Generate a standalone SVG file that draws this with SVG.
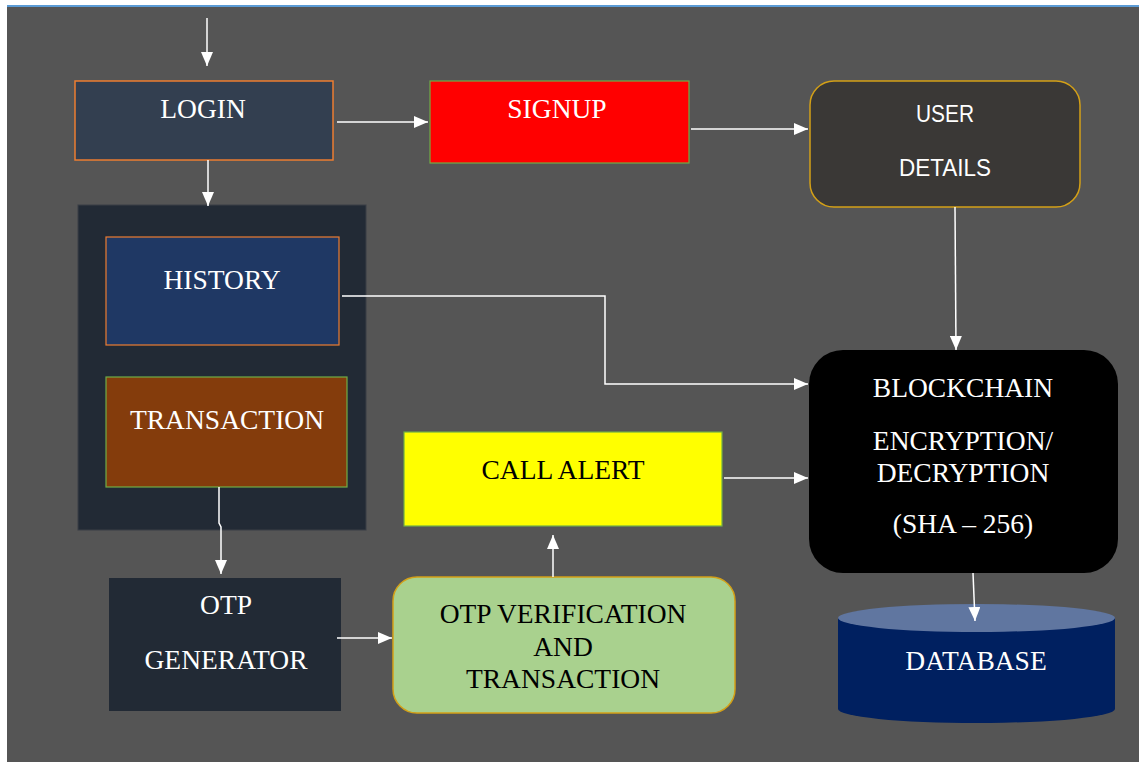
<svg xmlns="http://www.w3.org/2000/svg" width="1139" height="762" viewBox="0 0 1139 762">
<defs>
<style>
.serif{font-family:"Liberation Serif","Times New Roman",serif;font-size:27.5px;text-anchor:middle}
.w{fill:#ffffff}
.b{fill:#000000}
.sans{font-family:"Liberation Sans",Arial,sans-serif;font-size:24px;text-anchor:middle;fill:#ffffff}
.conn{fill:none;stroke:#ffffff;stroke-width:1.5}
</style>
<marker id="ahl" viewBox="0 0 14 12" refX="14" refY="6" markerWidth="14" markerHeight="12" markerUnits="userSpaceOnUse" orient="auto">
<path d="M0,0 L14,6 L0,12 z" fill="#ffffff"/>
</marker>
</defs>
<rect x="0" y="0" width="1139" height="762" fill="#ffffff"/>
<rect x="7" y="6" width="1132" height="756" fill="#555555"/>
<rect x="7" y="5" width="1132" height="2" fill="#5b9bd5"/>

<g id="group-container">
<rect x="78" y="205" width="288" height="325" fill="#222a35" stroke="#3a3f46" stroke-width="1"/>
</g>

<g id="login">
<rect x="75" y="81" width="258" height="79" fill="#333f50" stroke="#ed7d31" stroke-width="1.5"/>
<text class="serif w" x="203" y="118">LOGIN</text>
</g>

<g id="signup">
<rect x="430" y="81" width="259" height="82" fill="#ff0000" stroke="#70ad47" stroke-width="1.2"/>
<text class="serif w" x="557" y="118">SIGNUP</text>
</g>

<g id="user-details">
<rect x="810" y="81" width="270" height="126" rx="24" fill="#3a3836" stroke="#d4a017" stroke-width="1.5"/>
<text class="sans" x="945" y="122" textLength="58" lengthAdjust="spacingAndGlyphs">USER</text>
<text class="sans" x="945" y="176" textLength="92" lengthAdjust="spacingAndGlyphs">DETAILS</text>
</g>

<g id="history">
<rect x="106" y="237" width="233" height="108" fill="#1f3864" stroke="#ed7d31" stroke-width="1.2"/>
<text class="serif w" x="222" y="289">HISTORY</text>
</g>

<g id="transaction">
<rect x="106" y="377" width="241" height="110" fill="#843c0c" stroke="#70ad47" stroke-width="1.2"/>
<text class="serif w" x="227" y="429">TRANSACTION</text>
</g>

<g id="otp-generator">
<rect x="109" y="578" width="232" height="133" fill="#222a35"/>
<text class="serif w" x="226" y="614">OTP</text>
<text class="serif w" x="226" y="669">GENERATOR</text>
</g>

<g id="otp-verification">
<rect x="393" y="577" width="342" height="136" rx="24" fill="#a9d18e" stroke="#d4a017" stroke-width="1.5"/>
<text class="serif b" x="563" y="623">OTP VERIFICATION</text>
<text class="serif b" x="563" y="656">AND</text>
<text class="serif b" x="563" y="688">TRANSACTION</text>
</g>

<g id="call-alert">
<rect x="404" y="432" width="318" height="94" fill="#ffff00" stroke="#70ad47" stroke-width="1.2"/>
<text class="serif b" x="563" y="479">CALL ALERT</text>
</g>

<g id="blockchain">
<rect x="809" y="350" width="309" height="223" rx="34" fill="#000000"/>
<text class="serif w" x="963" y="397">BLOCKCHAIN</text>
<text class="serif w" x="963" y="450">ENCRYPTION/</text>
<text class="serif w" x="963" y="482">DECRYPTION</text>
<text class="serif w" x="963" y="533">(SHA – 256)</text>
</g>

<g id="database">
<path d="M838,618 L838,709 A138.5,14 0 0 0 1115,709 L1115,618 Z" fill="#002060"/>
<ellipse cx="976.5" cy="618" rx="138.5" ry="14" fill="#6076a0"/>
<text class="serif w" x="976" y="670">DATABASE</text>
</g>

<g id="connectors">
<line class="conn" x1="207" y1="18" x2="207" y2="66" marker-end="url(#ahl)"/>
<line class="conn" x1="337" y1="122" x2="428" y2="122" marker-end="url(#ahl)"/>
<line class="conn" x1="691" y1="129" x2="808" y2="129" marker-end="url(#ahl)"/>
<line class="conn" x1="208" y1="160" x2="208" y2="206" marker-end="url(#ahl)"/>
<line class="conn" x1="955" y1="207" x2="956" y2="350" marker-end="url(#ahl)"/>
<polyline class="conn" points="342,296 605,296 605,384 808,384" marker-end="url(#ahl)"/>
<polyline class="conn" points="219,487 219,523 221,527 221,574" marker-end="url(#ahl)"/>
<line class="conn" x1="337" y1="638" x2="392" y2="638" marker-end="url(#ahl)"/>
<line class="conn" x1="553" y1="577" x2="553" y2="535" marker-end="url(#ahl)"/>
<line class="conn" x1="724" y1="478" x2="808" y2="478" marker-end="url(#ahl)"/>
<line class="conn" x1="973" y1="573" x2="975" y2="621" marker-end="url(#ahl)"/>
</g>
</svg>
